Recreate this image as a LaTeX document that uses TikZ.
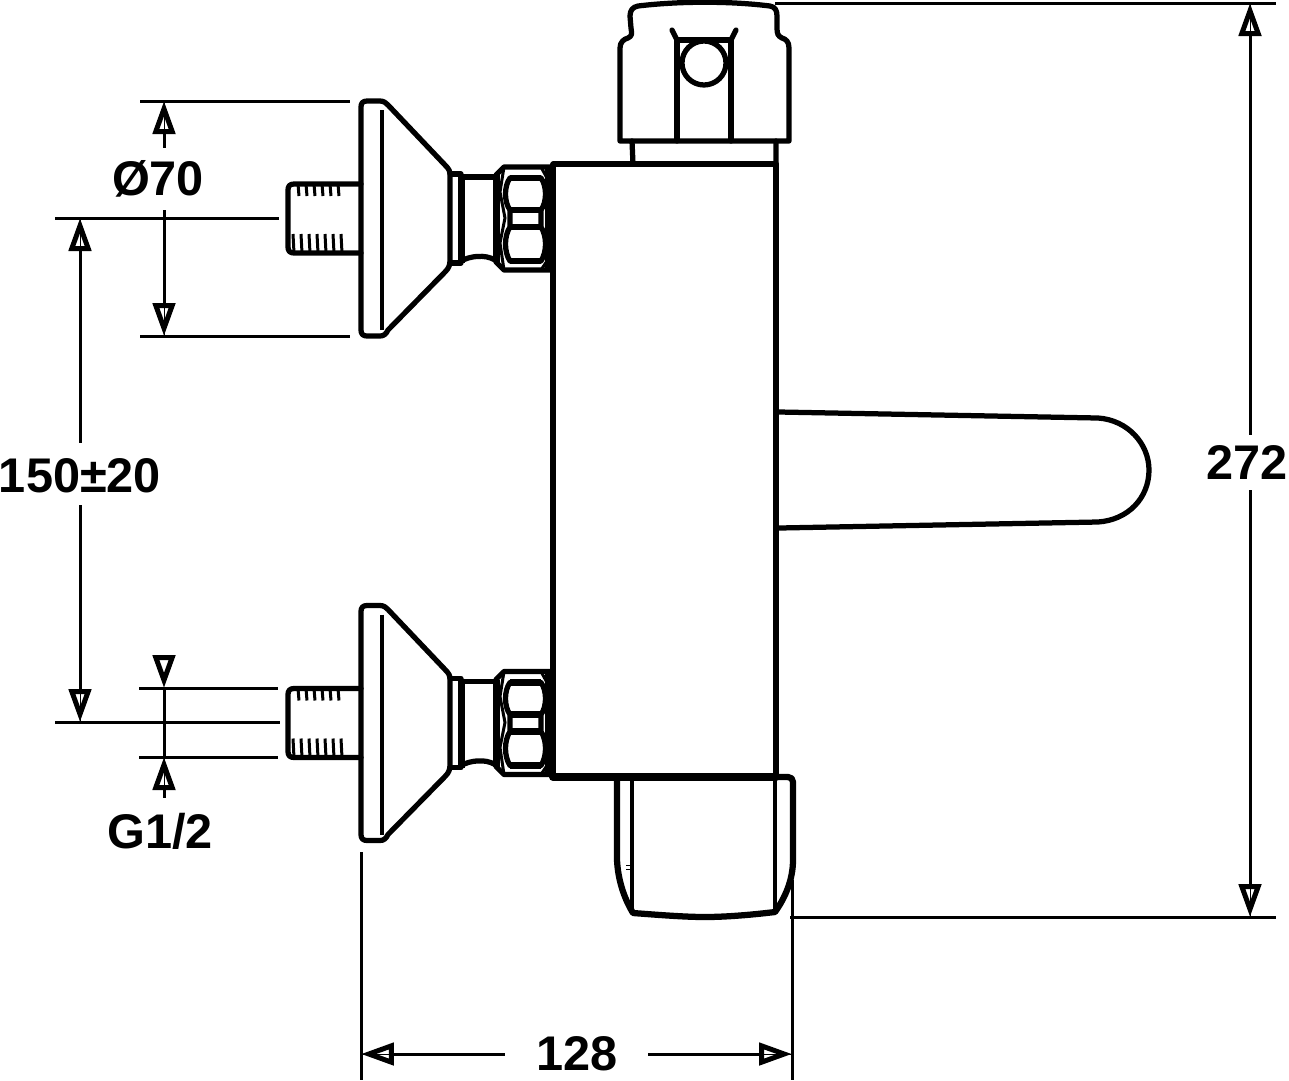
\documentclass[tikz,border=0pt]{standalone}
\usepackage{fontspec}
\setmainfont{Liberation Sans}
\usetikzlibrary{arrows.meta}
\tikzset{dimtip/.tip={Triangle[open,length=0.66cm,width=0.44cm,line width=0.1cm]}}

\begin{document}
\begin{tikzpicture}[x=0.02cm,y=-0.02cm,
    outline/.style={line width=0.105cm,line join=round,line cap=round},
    fine/.style={line width=0.06cm},
    dimln/.style={fine,preaction={draw,arrows=-}},
    lbl/.style={inner sep=0pt,font=\fontsize{27.7}{30}\selectfont\bfseries}]
          \useasboundingbox (0,0) rectangle (1289,1080);

          %two wall connections
          \foreach \oy in {0,504.5}{
          \begin{scope}[shift={(0,\oy)}]
          \draw[outline] (361,107) .. controls (361,103) and (363,101) .. (367,101) -- (380,101)
              .. controls (384,101) and (386,103) .. (388,105) -- (445,165)
              .. controls (449,169) and (450,171) .. (450,175) -- (450,260)
              .. controls (450,265) and (449,268) .. (445,272) -- (388,330)
              .. controls (386,334) and (384,336) .. (380,336) -- (367,336)
              .. controls (363,336) and (361,334) .. (361,330) -- cycle;
          \draw[line width=0.07cm] (382,110) -- (382,330);
          %threaded stud
          \draw[outline] (361,184) -- (294,184) .. controls (290,184) and (288,186) .. (288,190)
              -- (288,247) .. controls (288,251) and (290,253) .. (294,253) -- (361,253);
          \foreach \tx in {298,306,...,340}
            \draw[fine] (\tx,184) -- (\tx+1,196);
          \foreach \tx in {293,301,...,343}
            \draw[fine] (\tx,234) -- (\tx+1,253);
          %collar and neck
          \draw[outline] (450,174) -- (461,174) (450,263) -- (461,263);
          \draw[line width=0.14cm] (461,174) -- (461,263);
          \draw[outline] (461,177) -- (495,177);
          \draw[outline] (461,261) .. controls (470,256) and (485,254) .. (495,260);
          %nut
          \draw[line width=0.14cm] (496,175) -- (496,262);
          \draw[outline] (496,175) -- (504,167) -- (553,167) (496,262) -- (504,270) -- (553,270);
          \draw[line width=0.13cm] (510,178) -- (541,178) (510,210) -- (541,210)
              (510,227) -- (541,227) (510,261) -- (541,261);
          \draw[outline] (510,178) .. controls (504,186) and (504,202) .. (510,210) -- (510,227)
              .. controls (504,236) and (504,252) .. (510,261)
              (541,178) .. controls (547,186) and (547,202) .. (541,210) -- (541,227)
              .. controls (547,236) and (547,252) .. (541,261);
          \draw[fine] (504,167) -- (500,192) -- (505,218) -- (500,243) -- (504,270)
              (541,167) -- (547,178) (541,270) -- (547,261);
          \draw[line width=0.13cm] (548,167) -- (548,270);
          \end{scope}}

          %body
          \draw[outline] (553,164) -- (553,777) (553,164) -- (776,164) -- (776,777);

          %top handle
          \draw[outline] (620,141) -- (620,48) .. controls (620,42) and (624,39) .. (628,38)
              .. controls (632,36) and (632,34) .. (631,28) -- (630,16)
              .. controls (630,10) and (633,7) .. (638,6) .. controls (680,1) and (730,1) .. (770,6)
              .. controls (775,7) and (777,10) .. (777,16) -- (777,28)
              .. controls (777,34) and (778,36) .. (782,38) .. controls (786,39) and (789,42) .. (789,48)
              -- (789,141) -- cycle;
          \draw[outline] (677,141) -- (677,40) -- (731,40) -- (731,141);
          \draw[outline] (672,30) -- (677,40) (736,30) -- (731,40);
          \draw[outline] (704,63) circle (22);
          \draw[outline] (632,141) -- (633,164) (776,141) -- (776,164);

          %bottom cap
          \draw[outline,line width=0.125cm] (617,779) -- (617,860) .. controls (618,880) and (624,898) .. (633,913)
              .. controls (660,915) and (685,917) .. (705,917) .. controls (725,917) and (750,915) .. (775,912)
              .. controls (785,898) and (793,880) .. (793,860) -- (793,782)
              .. controls (793,779) and (791,777) .. (788,777) -- (776,777);
          \draw[line width=0.07cm] (632,778) -- (632,912) (775,778) -- (775,912);
          \draw[line width=0.02cm] (626,865) -- (632,865) (626,869) -- (632,869);
          \draw[line width=0.16cm,line cap=round] (553,777) -- (776,777);

          %spout
          \draw[outline] (779,412) -- (1098,418) .. controls (1128,420) and (1149,444) .. (1149,470)
              .. controls (1149,498) and (1128,520) .. (1098,522) -- (779,528);

          %extension lines
          \draw[fine] (140,101) -- (350,101) (140,336) -- (350,336) (55,218) -- (279,218);
          \draw[fine] (139,688) -- (278,688) (55,722) -- (280,722) (139,757) -- (278,757);
          \draw[fine] (775,3) -- (1276,3) (790,917) -- (1276,917);
          \draw[fine] (361,852) -- (361,1080) (792,880) -- (792,1080);

          %dimensions
          \node[lbl] (diameter) at (158,179) {Ø70};
          \node[lbl] (spacing) at (80,476) {150±20};
          \node[lbl] (thread) at (160,831) {G1/2};
          \node[lbl] (depth) at (577,1054) {128};
          \node[lbl] (height) at (1247,462) {272};

          \draw[dimln,{dimtip}-] (164,101) -- (164,148);
          \draw[dimln,-{dimtip}] (164,210) -- (164,336);
          \draw[dimln,{dimtip}-] (80,218) -- (80,443);
          \draw[dimln,-{dimtip}] (80,505) -- (80,722);
          \draw[fine,-{dimtip}] (164,655) -- (164,688);
          \draw[fine] (164,688) -- (164,757);
          \draw[dimln,{dimtip}-] (164,757) -- (164,798);
          \draw[dimln,{dimtip}-] (361,1054) -- (505,1054);
          \draw[dimln,-{dimtip}] (648,1054) -- (792,1054);
          \draw[dimln,{dimtip}-] (1250,3) -- (1250,435);
          \draw[dimln,-{dimtip}] (1250,490) -- (1250,917);
          \end{tikzpicture}
\end{document}
